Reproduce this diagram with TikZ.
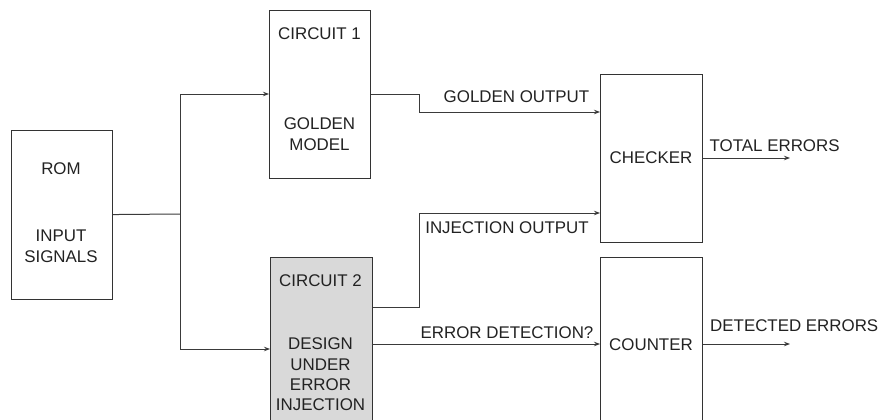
\documentclass[tikz,border=0pt]{standalone}
\usepackage{fontspec}
\setmainfont{Liberation Sans}
\usetikzlibrary{arrows.meta}
\definecolor{boxline}{HTML}{333333}
\definecolor{wireline}{HTML}{3A3A3A}
\definecolor{textcol}{HTML}{222222}
\definecolor{dutfill}{HTML}{D9D9D9}
\begin{document}
\begin{tikzpicture}[x=1pt,y=-1pt,
  box/.style={draw=boxline,line width=1.1pt,rectangle,inner sep=0pt,anchor=north west},
  wire/.style={draw=wireline,line width=1pt},
  sig/.style={wire,-{Stealth[length=6pt,width=4.5pt]}},
  txt/.style={font=\fontsize{16.9}{20.5}\selectfont,text=textcol,inner sep=0pt},
]
\useasboundingbox (0,0) rectangle (878,420);
\clip (0,0) rectangle (878,420);

% blocks
\node[box,minimum width=101pt,minimum height=169pt] (rom) at (10.5,129.5) {};
\node[box,minimum width=101pt,minimum height=168pt] (c1) at (269,10) {};
\node[box,fill=dutfill,minimum width=101.5pt,minimum height=200pt] (c2) at (270,257) {};
\node[box,minimum width=102pt,minimum height=168pt] (chk) at (600,74) {};
\node[box,minimum width=102pt,minimum height=200pt] (cnt) at (600,257) {};

% block captions
\node[txt] (romA) at (61,169) {ROM};
\node[txt] (romB) at (61,236) {INPUT};
\node[txt] (romC) at (61,257) {SIGNALS};
\node[txt] (c1A) at (319.5,34) {CIRCUIT 1};
\node[txt] (c1B) at (319.5,124) {GOLDEN};
\node[txt] (c1C) at (319.5,144.5) {MODEL};
\node[txt] (c2A) at (320.5,281) {CIRCUIT 2};
\node[txt] (c2B) at (320.5,344) {DESIGN};
\node[txt] (c2C) at (320.5,364.5) {UNDER};
\node[txt] (c2D) at (320.5,385) {ERROR};
\node[txt] (c2E) at (320.5,405) {INJECTION};
\node[txt] (chkA) at (651,157.5) {CHECKER};
\node[txt] (cntA) at (651,344.5) {COUNTER};

% input bus
\coordinate (bus) at (180,214);
\coordinate (busT) at (180,94);
\coordinate (busB) at (180,349);
\draw[wire] (rom.east) -- (bus);
\draw[wire] (busT) -- (busB);
\draw[sig] (busT) -- (busT -| c1.west);
\draw[sig] (busB) -- (busB -| c2.west);

% outputs towards checker and counter
\coordinate (gA) at (419,94);
\coordinate (gB) at (419,112);
\draw[sig] (c1.east |- gA) -- (gA) -- (gB) -- (gB -| chk.west);
\coordinate (iA) at (419,307);
\coordinate (iB) at (419,213);
\draw[sig] (c2.east |- iA) -- (iA) -- (iB) -- (iB -| chk.west);
\coordinate (eA) at (371.5,344);
\draw[sig] (eA) -- (eA -| cnt.west);

\coordinate (tot) at (790,158);
\draw[sig] (chk.east |- tot) -- (tot);
\coordinate (det) at (790,344);
\draw[sig] (cnt.east |- det) -- (det);

% connector labels
\node[txt] (lg) at (516.5,97) {GOLDEN OUTPUT};
\node[txt] (li) at (507,228) {INJECTION OUTPUT};
\node[txt] (le) at (507,333) {ERROR DETECTION?};
\node[txt,anchor=west] (lt) at (709.5,146) {TOTAL ERRORS};
\node[txt,anchor=west] (ld) at (710,326) {DETECTED ERRORS};
\end{tikzpicture}
\end{document}
